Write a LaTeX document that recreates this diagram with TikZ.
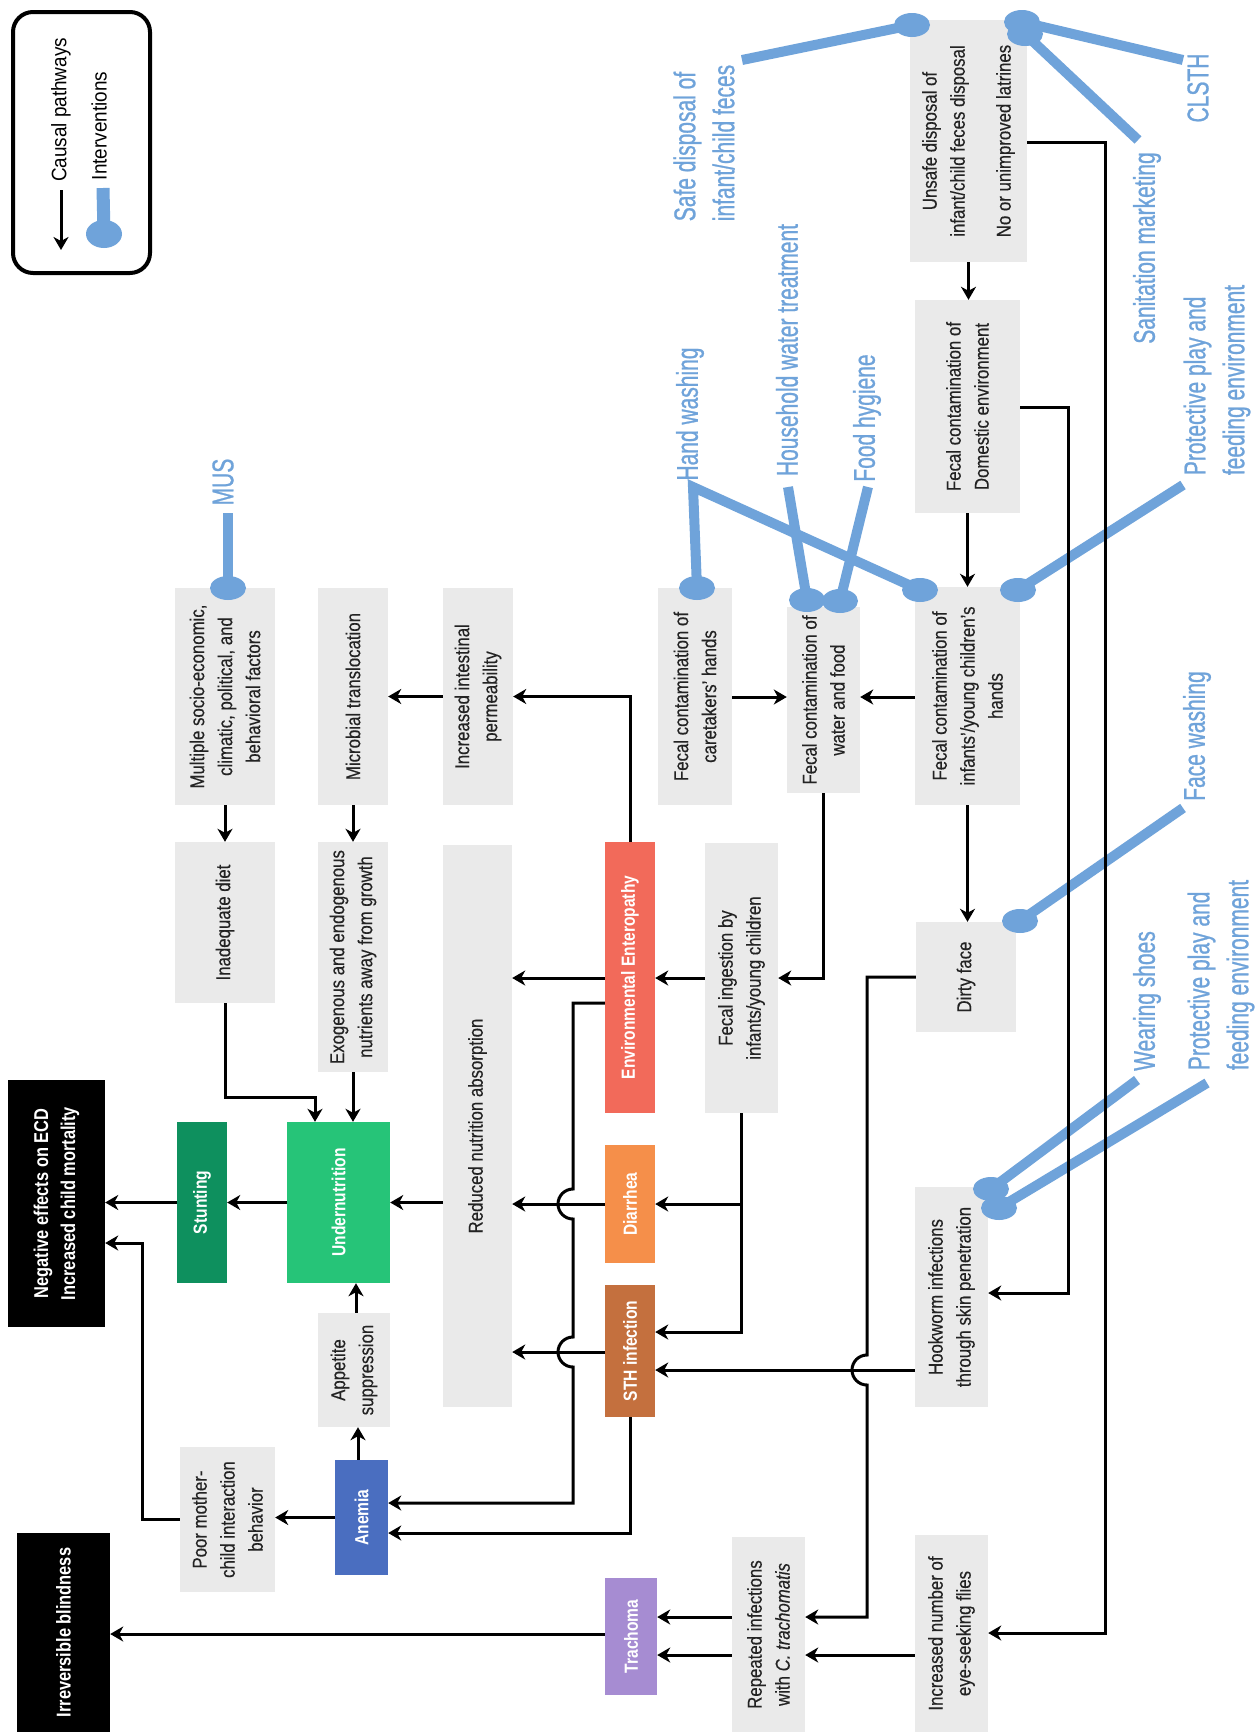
\documentclass[tikz,border=0pt]{standalone}
\usepackage{fontspec}
\setmainfont{Liberation Sans}
\newfontfamily\gfnt[FakeStretch=0.84,FakeBold=0.3]{Liberation Sans}
\newfontfamily\wfnt[FakeStretch=0.82]{Liberation Sans}
\newfontfamily\bfnt[FakeStretch=0.70,FakeBold=0.8]{Liberation Sans}
\newfontfamily\lfnt[FakeStretch=0.90]{Liberation Sans}
\usetikzlibrary{arrows.meta}
\definecolor{boxgray}{RGB}{234,234,234}
\definecolor{txtgray}{RGB}{35,35,35}
\definecolor{pinblue}{RGB}{111,163,218}
\definecolor{eecol}{RGB}{242,106,90}
\definecolor{diacol}{RGB}{245,143,74}
\definecolor{sthcol}{RGB}{196,112,62}
\definecolor{tracol}{RGB}{166,140,210}
\definecolor{undcol}{RGB}{38,196,120}
\definecolor{stucol}{RGB}{14,144,94}
\definecolor{anecol}{RGB}{74,110,192}
\tikzset{
  gbox/.style={fill=boxgray, rotate=90, inner sep=0pt, align=center, text=txtgray, font=\gfnt\fontsize{20}{28}\selectfont},
  cbox/.style={fill=#1, rotate=90, inner sep=0pt, align=center, text=white, font=\wfnt\bfseries\fontsize{19}{26}\selectfont},
  kbox/.style={fill=black, rotate=90, inner sep=0pt, align=center, text=white, font=\wfnt\bfseries\fontsize{20}{27}\selectfont},
  bsz/.style 2 args={minimum width=#1pt, minimum height=#2pt},
  lab/.style={rotate=90, text=pinblue, font=\bfnt\fontsize{30}{39}\selectfont, inner sep=0pt},
  pinline/.style={draw=pinblue, line width=10pt},
  pinend/.style={fill=pinblue},
  arr/.style={draw=black, line width=3pt, -{Stealth[length=13pt,width=15pt,inset=4pt]}},
}
\begin{document}
\begin{tikzpicture}[x=1pt,y=-1pt]
\fill[white] (0,0) rectangle (1257,1732);
\useasboundingbox (0,0) rectangle (1257,1732);

% legend
\node[draw, line width=4pt, rounded corners=20pt, minimum width=137pt, minimum height=261pt, inner sep=0pt] (legend) at (81.5,142.5) {};
\node[rotate=90, font=\lfnt\fontsize{21}{25}\selectfont, inner sep=0pt] (lcausal) at (61,110) {Causal pathways};
\node[rotate=90, font=\lfnt\fontsize{21}{25}\selectfont, inner sep=0pt] (linter) at (99,126) {Interventions};
\coordinate (la1) at (61,190);
\coordinate (la2) at (61,250);
\draw[arr] (la1) -- (la2);
\coordinate (lp1) at (103,188);
\coordinate (lp2) at (104,234);
\draw[pinline, line width=13pt] (lp1) -- (lp2);
\fill[pinend] (lp2) ellipse[x radius=18pt, y radius=14pt];

% gray boxes
\node[gbox, bsz={242}{117}] (unsafe) at (968.5,141) {Unsafe disposal of\\infant/child feces disposal\\[18pt]No or unimproved latrines};
\node[gbox, bsz={213}{105}] (domestic) at (967.5,406.5) {Fecal contamination of\\Domestic environment};
\node[gbox, bsz={218}{105}] (infants) at (967.5,696) {Fecal contamination of\\infants’/young children’s\\hands};
\node[gbox, bsz={110}{100}] (dirty) at (966,977) {Dirty face};
\node[gbox, bsz={220}{73}] (hook) at (951.5,1297) {Hookworm infections\\through skin penetration};
\node[gbox, bsz={197}{73}] (flies) at (951.5,1633.5) {Increased number of\\eye-seeking flies};
\node[gbox, bsz={186}{73}] (water) at (823.5,700) {Fecal contamination of\\water and food};
\node[gbox, bsz={217}{74}] (care) at (695,696.5) {Fecal contamination of\\caretakers’ hands};
\node[gbox, bsz={270}{73}] (ingest) at (741.5,978) {Fecal ingestion by\\infants/young children};
\node[gbox, bsz={195}{73}] (repeat) at (768.5,1634.5) {Repeated infections\\with \textit{C. trachomatis}};
\node[gbox, bsz={217}{70}] (perm) at (478,696.5) {Increased intestinal\\permeability};
\node[gbox, bsz={562}{69}] (reduced) at (477.5,1126) {Reduced nutrition absorption};
\node[gbox, bsz={217}{70}] (micro) at (353,696.5) {Microbial translocation};
\node[gbox, bsz={230}{70}] (exo) at (353,957) {Exogenous and endogenous\\nutrients away from growth};
\node[gbox, bsz={217}{100}] (multi) at (225,696.5) {Multiple socio-economic,\\climatic, political, and\\behavioral factors};
\node[gbox, bsz={161}{100}] (diet) at (225,922.5) {Inadequate diet};
\node[gbox, bsz={114}{72}] (appet) at (354,1370) {Appetite\\suppression};
\node[gbox, bsz={145}{95}] (poor) at (227.5,1519.5) {Poor mother-\\child interaction\\behavior};

% coloured boxes
\node[cbox=eecol, bsz={271}{50}] (ee) at (630,977.5) {Environmental Enteropathy};
\node[cbox=diacol, bsz={118}{50}] (dia) at (630,1204) {Diarrhea};
\node[cbox=sthcol, bsz={132}{50}] (sth) at (630,1351) {STH infection};
\node[cbox=tracol, bsz={117}{52}] (trach) at (631,1636.5) {Trachoma};
\node[cbox=undcol, bsz={161}{103}] (under) at (338.5,1202.5) {Undernutrition};
\node[cbox=stucol, bsz={161}{50}] (stunt) at (202,1202.5) {Stunting};
\node[cbox=anecol, bsz={115}{53}] (anemia) at (361.5,1517.5) {Anemia};
\node[kbox, bsz={247}{97}] (neg) at (56.5,1203.5) {Negative effects on ECD\\Increased child mortality};
\node[kbox, bsz={199}{93}] (blind) at (63.5,1632.5) {Irreversible blindness};

% intervention labels
\node[lab] (mus) at (223,482) {MUS};
\node[lab, align=left] (safe) at (704,143) {Safe disposal of\\infant/child feces};
\node[lab] (clsth) at (1198,88) {CLSTH};
\node[lab] (sanit) at (1147,248) {Sanitation marketing};
\node[lab] (hand) at (690,414) {Hand washing};
\node[lab] (house) at (787,350) {Household water treatment};
\node[lab] (food) at (867,418) {Food hygiene};
\node[lab, align=left] (prot1) at (1217,380) {Protective play and\\feeding environment};
\node[lab] (face) at (1197,736) {Face washing};
\node[lab] (shoes) at (1147,1001) {Wearing shoes};
\node[lab, align=left] (prot2) at (1221,975) {Protective play and\\feeding environment};

% intervention pins
\coordinate (musA) at (228,513);   \coordinate (musB) at (228,588);
\coordinate (safeA) at (742,60);   \coordinate (safeB) at (912,25);
\coordinate (clA) at (1183,60);    \coordinate (clB) at (1022,22);
\coordinate (saA) at (1138,140);   \coordinate (saB) at (1025,34);
\coordinate (haA) at (693,487);    \coordinate (haB) at (697,588); \coordinate (haC) at (920,590);
\coordinate (hoA) at (788,487);    \coordinate (hoB) at (807,600);
\coordinate (foA) at (868,487);    \coordinate (foB) at (840,601);
\coordinate (p1A) at (1183,485);   \coordinate (p1B) at (1018,590);
\coordinate (faA) at (1183,808);   \coordinate (faB) at (1020,921);
\coordinate (shA) at (1137,1080);  \coordinate (shB) at (991,1189);
\coordinate (p2A) at (1207,1083);  \coordinate (p2B) at (999,1208);
\draw[pinline] (musA) -- (musB);
\draw[pinline] (safeA) -- (safeB);
\draw[pinline] (clA) -- (clB);
\draw[pinline] (saA) -- (saB);
\draw[pinline] (haB) -- (haA) -- (haC);
\draw[pinline] (hoA) -- (hoB);
\draw[pinline] (foA) -- (foB);
\draw[pinline] (p1A) -- (p1B);
\draw[pinline] (faA) -- (faB);
\draw[pinline] (shA) -- (shB);
\draw[pinline] (p2A) -- (p2B);
\foreach \c in {musB,safeB,clB,saB,haB,haC,hoB,foB,p1B,faB,shB,p2B}
  \fill[pinend] (\c) ellipse[x radius=18pt, y radius=12pt];

% causal pathways
\draw[arr] (unsafe.west) -- (unsafe.west |- domestic.east);
\draw[arr] (domestic.west) -- (domestic.west |- infants.east);
\draw[arr] (infants.west) -- (infants.west |- dirty.east);
\draw[arr] (infants.north |- 0,697) -- (water.south |- 0,697);
\draw[arr] (care.south |- 0,697) -- (water.north |- 0,697);
\draw[arr] (unsafe.south |- 0,142) -- (1105,142) -- (1105,1633) -- (flies.south |- 0,1633);
\draw[arr] (domestic.south |- 0,407) -- (1068,407) -- (1068,1293) -- (hook.south |- 0,1293);
\draw[arr] (water.west) -- (water.west |- ingest.south) -- (ingest.south);
\draw[arr] (ingest.north) -- (ee.south |- ingest.north);
\draw[arr] (ingest.west) -- (ingest.west |- 0,1332) -- (sth.south |- 0,1332);
\draw[arr] (ingest.west |- dia.south) -- (dia.south);
\draw[arr] (ee.east) -- (ee.east |- perm.south) -- (perm.south);
\draw[arr] (perm.north) -- (micro.south);
\draw[arr] (ee.north |- 0,978) -- (reduced.south |- 0,978);
\draw[arr] (ee.north |- 0,1003) -- (573,1003) -- (573,1189)
   arc[start angle=90, end angle=270, radius=15pt] -- (573,1337)
   arc[start angle=90, end angle=270, radius=15pt] -- (573,1503) -- (anemia.south |- 0,1503);
\draw[arr] (dia.north) -- (reduced.south |- dia.north);
\draw[arr] (sth.north |- 0,1352) -- (reduced.south |- 0,1352);
\draw[arr] (sth.west) -- (sth.west |- 0,1533) -- (anemia.south |- 0,1533);
\draw[arr] (hook.north |- 0,1370) -- (sth.south |- 0,1370);
\draw[arr] (dirty.north) -- (867,977) -- (867,1355)
   arc[start angle=90, end angle=270, radius=15pt] -- (867,1617) -- (repeat.south |- 0,1617);
\draw[arr] (flies.north |- 0,1655) -- (repeat.south |- 0,1655);
\draw[arr] (repeat.north |- 0,1617) -- (trach.south |- 0,1617);
\draw[arr] (repeat.north |- 0,1655) -- (trach.south |- 0,1655);
\draw[arr] (trach.north |- 0,1634) -- (blind.south |- 0,1634);
\draw[arr] (reduced.north |- under.south) -- (under.south);
\draw[arr] (under.north) -- (stunt.south);
\draw[arr] (stunt.north) -- (neg.south |- stunt.north);
\draw[arr] (poor.north) -- (142,1519.5) -- (142,1243) -- (neg.south |- 0,1243);
\draw[arr] (anemia.north) -- (poor.south |- anemia.north);
\draw[arr] (anemia.east -| 358,0) -- (appet.west -| 358,0);
\draw[arr] (appet.east -| 356,0) -- (under.west -| 356,0);
\draw[arr] (exo.west) -- (exo.west |- under.east);
\draw[arr] (diet.west) -- (diet.west |- 0,1097) -- (315,1097) -- (under.east -| 315,0);
\draw[arr] (multi.west) -- (multi.west |- diet.east);
\draw[arr] (micro.west) -- (micro.west |- exo.east);
\end{tikzpicture}
\end{document}
